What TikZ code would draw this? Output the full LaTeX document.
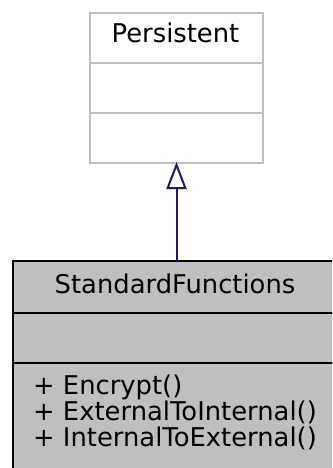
\documentclass[tikz,border=0pt]{standalone}
\usepackage{fontspec}
\setmainfont{DejaVu Sans}
\usetikzlibrary{arrows.meta}
\definecolor{boxgray}{HTML}{BFBFBF}
\definecolor{edgeblue}{HTML}{191970}
\tikzset{
  grayclass/.style={draw=boxgray, line width=2pt, fill=white, minimum width=173pt, minimum height=50pt, inner sep=0pt, anchor=north west},
  darkclass/.style={draw=black, line width=2pt, fill=boxgray, minimum width=323pt, minimum height=50pt, inner sep=0pt, anchor=north west},
  lbl/.style={font=\fontsize{25.8pt}{26pt}\selectfont, inner sep=0pt},
  inherit/.style={draw=edgeblue, line width=2pt, -{Triangle[open, length=27pt, width=20pt, line width=2pt]}}
}
\begin{document}
\begin{tikzpicture}[x=1pt, y=-1pt]
\useasboundingbox (0,0) rectangle (332,468);
\clip (0,0) rectangle (332,468);
% Persistent
\node[grayclass] (p1) at (89,12) {};
\node[grayclass] (p2) at (89,62) {};
\node[grayclass] (p3) at (89,112) {};
\node[lbl, anchor=base] (pt) at (175.5,43) {Persistent};
% StandardFunctions
\node[darkclass, minimum height=52pt] (s1) at (11.5,260) {};
\node[darkclass] (s2) at (11.5,312) {};
\node[darkclass, minimum height=110pt] (s3) at (11.5,362) {};
\node[lbl, anchor=base] (st) at (175,293) {StandardFunctions};
\node[lbl, anchor=base west] (m1) at (33,394) {+ Encrypt()};
\node[lbl, anchor=base west] (m2) at (33,420) {+ ExternalToInternal()};
\node[lbl, anchor=base west] (m3) at (33,446) {+ InternalToExternal()};
% inheritance
\draw[inherit] (s1.north -| p3.south) -- ([yshift=2pt]p3.south);
\end{tikzpicture}
\end{document}
